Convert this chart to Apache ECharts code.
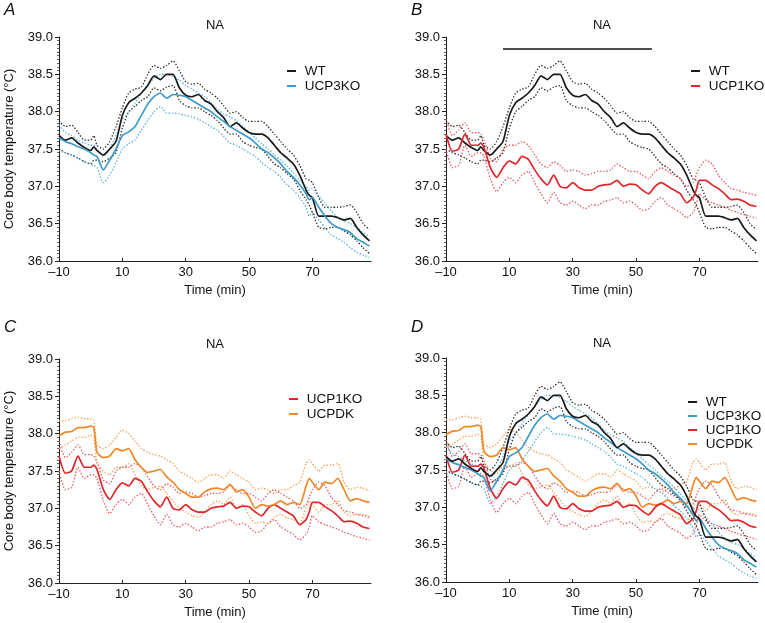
<!DOCTYPE html>
<html>
<head>
<meta charset="utf-8">
<script src="https://cdn.jsdelivr.net/npm/echarts@6/dist/echarts.min.js"></script>
<style>
html,body{margin:0;padding:0;background:#fff;}
#chart{width:765px;height:623px;}
</style>
</head>
<body>
<div id="chart"></div>
<script>
// ---- data (time in min, core body temperature in °C) ----
const time = [-10,-8,-6,-4,-2,0,1,2,4,6,8,10,12,14,16,18,20,22,24,26,28,30,32,34,36,38,40,42,44,46,48,50,52,54,56,58,60,62,64,66,68,69,70,72,74,76,78,80,82,84,86,88];

const wtMean  = [37.68,37.62,37.65,37.58,37.52,37.48,37.53,37.48,37.42,37.5,37.6,37.95,38.12,38.18,38.25,38.35,38.48,38.43,38.5,38.5,38.32,38.22,38.2,38.23,38.15,38.1,38.0,37.92,37.8,37.85,37.78,37.72,37.7,37.7,37.65,37.55,37.45,37.38,37.3,37.15,36.95,36.88,36.85,36.6,36.6,36.6,36.58,36.55,36.57,36.45,36.35,36.27];
const wtUpper = [37.88,37.8,37.82,37.72,37.62,37.62,37.68,37.55,37.5,37.6,37.8,38.05,38.25,38.3,38.33,38.5,38.62,38.58,38.62,38.68,38.55,38.4,38.37,38.38,38.3,38.25,38.18,38.08,37.98,38.0,37.92,37.87,37.87,37.87,37.8,37.7,37.6,37.5,37.42,37.28,37.1,37.08,37.05,36.85,36.72,36.72,36.72,36.73,36.75,36.65,36.5,36.42];
const wtLower = [37.5,37.45,37.42,37.38,37.33,37.3,37.35,37.35,37.33,37.38,37.45,37.78,38.0,38.07,38.15,38.2,38.32,38.28,38.33,38.35,38.15,38.08,38.05,38.05,38.0,37.95,37.88,37.78,37.7,37.7,37.6,37.55,37.52,37.5,37.4,37.3,37.25,37.17,37.1,36.95,36.82,36.75,36.65,36.45,36.43,36.45,36.45,36.4,36.35,36.27,36.18,36.1];

const ko3Mean  = [37.65,37.6,37.57,37.53,37.5,37.45,37.42,37.4,37.22,37.35,37.5,37.68,37.73,37.8,37.95,38.1,38.2,38.25,38.18,38.23,38.22,38.2,38.15,38.1,38.05,38.0,37.93,37.87,37.8,37.75,37.7,37.65,37.58,37.5,37.45,37.38,37.3,37.2,37.12,37.02,36.9,36.82,36.85,36.72,36.6,36.5,36.45,36.42,36.38,36.3,36.25,36.2];
const ko3Upper = [37.82,37.72,37.68,37.62,37.58,37.55,37.55,37.5,37.4,37.5,37.68,37.9,37.98,38.12,38.25,38.35,38.45,38.5,38.5,38.47,38.42,38.35,38.3,38.25,38.2,38.12,38.03,37.97,37.93,37.88,37.8,37.72,37.65,37.57,37.5,37.42,37.35,37.27,37.18,37.08,37.0,36.95,36.97,36.87,36.77,36.67,36.58,36.53,36.5,36.45,36.38,36.33];
const ko3Lower = [37.48,37.45,37.42,37.37,37.33,37.3,37.28,37.25,37.05,37.15,37.32,37.5,37.57,37.62,37.75,37.88,38.0,38.07,37.98,37.98,37.97,37.95,37.93,37.9,37.85,37.8,37.75,37.67,37.58,37.55,37.5,37.45,37.4,37.32,37.25,37.2,37.12,37.02,36.95,36.85,36.72,36.6,36.65,36.55,36.45,36.35,36.3,36.25,36.18,36.12,36.08,36.05];

const ko1Mean  = [37.7,37.47,37.5,37.7,37.55,37.55,37.58,37.52,37.25,37.12,37.25,37.34,37.3,37.4,37.36,37.22,37.1,37.02,37.15,37.0,36.98,37.05,36.98,36.95,36.95,37.0,37.02,37.03,37.08,37.0,37.03,37.02,36.95,36.9,37.0,37.05,37.0,36.95,36.9,36.78,36.85,36.95,37.08,37.08,37.02,36.97,36.9,36.82,36.83,36.8,36.75,36.73];
const ko1Upper = [37.9,37.68,37.75,37.85,37.72,37.72,37.7,37.62,37.38,37.33,37.5,37.55,37.55,37.6,37.55,37.42,37.3,37.25,37.33,37.28,37.2,37.22,37.2,37.15,37.17,37.2,37.2,37.22,37.3,37.25,37.2,37.2,37.15,37.1,37.2,37.25,37.2,37.15,37.1,37.0,37.05,37.15,37.25,37.35,37.3,37.15,37.05,36.97,36.95,36.92,36.9,36.88];
const ko1Lower = [37.5,37.25,37.28,37.55,37.4,37.45,37.45,37.4,37.1,36.93,37.05,37.12,37.05,37.15,37.2,37.05,36.9,36.78,36.92,36.78,36.75,36.8,36.75,36.7,36.75,36.75,36.8,36.82,36.85,36.78,36.8,36.75,36.68,36.7,36.8,36.85,36.75,36.7,36.65,36.58,36.65,36.75,36.9,36.82,36.78,36.75,36.72,36.68,36.65,36.62,36.6,36.57];

const dkMean  = [37.97,38.02,38.03,38.08,38.08,38.1,38.08,37.75,37.68,37.7,37.8,37.77,37.8,37.65,37.55,37.48,37.5,37.52,37.42,37.35,37.25,37.2,37.15,37.15,37.22,37.26,37.27,37.25,37.32,37.22,37.25,37.15,37.0,37.05,37.03,37.05,37.1,37.05,37.08,37.05,37.3,37.4,37.35,37.25,37.35,37.33,37.4,37.25,37.1,37.13,37.1,37.08];
const dkUpper = [38.17,38.17,38.2,38.22,38.2,38.2,38.18,37.85,37.8,37.85,37.95,38.05,38.0,37.9,37.8,37.75,37.72,37.7,37.65,37.6,37.5,37.45,37.4,37.35,37.4,37.45,37.45,37.4,37.5,37.45,37.4,37.35,37.25,37.27,37.25,37.2,37.25,37.25,37.3,37.35,37.6,37.65,37.6,37.5,37.58,37.58,37.6,37.35,37.25,37.28,37.27,37.23];
const dkLower = [37.8,37.85,37.9,37.95,37.95,37.98,37.95,37.6,37.5,37.45,37.55,37.55,37.6,37.45,37.3,37.25,37.28,37.3,37.2,37.1,37.0,36.95,36.9,36.88,36.95,37.05,37.1,37.05,37.15,37.0,37.05,36.9,36.8,36.82,36.8,36.88,36.92,36.87,36.85,36.8,37.0,37.1,37.05,36.95,37.05,37.05,37.1,36.95,36.9,36.92,36.92,36.9];

// NA infusion bar (panel B): start/end time, level
const naBarTimes = [8, 55];
const naBarLevel = 38.84;

// ---- styling ----
const FONT = '"Liberation Sans", Arial, Helvetica, sans-serif';
const groups = {
  WT:     {mean: wtMean,  up: wtUpper,  lo: wtLower,  color: '#1a1a1a', dot: '#2a2a2a'},
  UCP3KO: {mean: ko3Mean, up: ko3Upper, lo: ko3Lower, color: '#3b9bcb', dot: '#52b0dc'},
  UCP1KO: {mean: ko1Mean, up: ko1Upper, lo: ko1Lower, color: '#e0262b', dot: '#e8545e'},
  UCPDK:  {mean: dkMean,  up: dkUpper,  lo: dkLower,  color: '#f0882a', dot: '#f3a050'}
};

const panels = [
  {grid: {left: 59, top: 37, width: 312, height: 224},  draw: ['WT','UCP3KO'], legend: ['WT','UCP3KO'], yName: true, letter: 'A', lx: 4, ly: 2, titleTop: 18.5,
   leg: {left: 287, top: 64, lh: 14, gap: 1}},
  {grid: {left: 446, top: 37, width: 312, height: 224}, draw: ['WT','UCP1KO'], legend: ['WT','UCP1KO'], yName: false, letter: 'B', lx: 411, ly: 2, bar: true, titleTop: 18.5,
   leg: {left: 691, top: 64, lh: 14, gap: 1}},
  {grid: {left: 59, top: 359, width: 312, height: 224}, draw: ['UCP1KO','UCPDK'], legend: ['UCP1KO','UCPDK'], yName: true, letter: 'C', lx: 4, ly: 319, titleTop: 337.5,
   leg: {left: 289, top: 392, lh: 14, gap: 1}},
  {grid: {left: 446, top: 358, width: 312, height: 224}, draw: ['UCPDK','UCP1KO','UCP3KO','WT'], legend: ['WT','UCP3KO','UCP1KO','UCPDK'], yName: false, letter: 'D', lx: 411, ly: 319, titleTop: 336.5,
   leg: {left: 688, top: 395, lh: 11.5, gap: 0}}
];

const option = {
  animation: false,
  backgroundColor: '#fff',
  textStyle: {fontFamily: FONT},
  grid: [], xAxis: [], yAxis: [], series: [], legend: [], title: [], graphic: []
};

panels.forEach((p, i) => {
  option.grid.push(Object.assign({containLabel: false}, p.grid));
  option.xAxis.push({
    type: 'value', gridIndex: i, min: -10, max: 88.5, interval: 20,
    name: 'Time (min)', nameLocation: 'middle', nameGap: 23,
    nameTextStyle: {fontSize: 13, color: '#111', fontFamily: FONT},
    axisLine: {show: true, onZero: false, lineStyle: {color: '#222', width: 1}},
    axisTick: {show: true, inside: true, length: 3, lineStyle: {color: '#222'}},
    axisLabel: {fontSize: 13, color: '#111', margin: 5, fontFamily: FONT, showMaxLabel: false,
      formatter: v => (v < 0 ? '\u2013' + Math.abs(v) : String(v))},
    splitLine: {show: false}
  });
  option.yAxis.push({
    type: 'value', gridIndex: i, min: 36, max: 39, interval: 0.5,
    name: p.yName ? 'Core body temperature (\u00B0C)' : '', nameLocation: 'middle', nameGap: 43,
    nameTextStyle: {fontSize: 13, color: '#111', fontFamily: FONT},
    axisLine: {show: true, onZero: false, lineStyle: {color: '#222', width: 1}},
    axisTick: {show: true, inside: false, length: 4, lineStyle: {color: '#222'}},
    minorTick: {show: true, splitNumber: 10, length: 2, lineStyle: {color: '#666'}},
    axisLabel: {fontSize: 13, color: '#111', margin: 6, fontFamily: FONT,
      formatter: v => v.toFixed(1)},
    splitLine: {show: false}
  });

  p.draw.forEach(name => {
    const g = groups[name];
    const mk = (arr) => time.map((t, k) => [t, arr[k]]);
    ['lo', 'up'].forEach(key => {
      option.series.push({
        type: 'line', name: name + ' ' + key, xAxisIndex: i, yAxisIndex: i,
        data: mk(g[key]), showSymbol: false, symbol: 'none', silent: true, smooth: 0.2,
        color: g.dot,
        lineStyle: {color: g.dot, width: 1.3, type: [1.4, 1.8]}
      });
    });
  });
  p.draw.forEach(name => {
    const g = groups[name];
    option.series.push({
      type: 'line', name: name, xAxisIndex: i, yAxisIndex: i,
      data: time.map((t, k) => [t, g.mean[k]]), showSymbol: false, symbol: 'none', smooth: 0.2,
      color: g.color, itemStyle: {color: g.color},
      lineStyle: {color: g.color, width: 1.7}
    });
  });
  if (p.bar) {
    option.series.push({
      type: 'line', name: 'NA bar', xAxisIndex: i, yAxisIndex: i,
      data: naBarTimes.map(t => [t, naBarLevel]), showSymbol: false, symbol: 'none', silent: true,
      lineStyle: {color: '#111', width: 1.5}
    });
  }

  option.legend.push({
    data: p.legend, orient: 'vertical', left: p.leg.left, top: p.leg.top, padding: 0,
    itemGap: p.leg.gap, icon: 'rect', itemWidth: 9, itemHeight: 2, selectedMode: false,
    formatter: n => ' ' + n,
    textStyle: {fontSize: 13.5, color: '#111', fontFamily: FONT, lineHeight: p.leg.lh}
  });

  option.title.push({
    text: 'NA', left: p.grid.left + p.grid.width / 2, top: p.titleTop, textAlign: 'center', padding: 0,
    textStyle: {fontSize: 13, fontWeight: 'normal', color: '#111', fontFamily: FONT}
  });

  option.graphic.push({
    type: 'text', left: p.lx, top: p.ly,
    style: {text: p.letter, font: 'italic 17px ' + FONT, fill: '#111'}
  });
});

const chart = echarts.init(document.getElementById('chart'), null, {renderer: 'canvas'});
chart.setOption(option);
</script>
</body>
</html>
